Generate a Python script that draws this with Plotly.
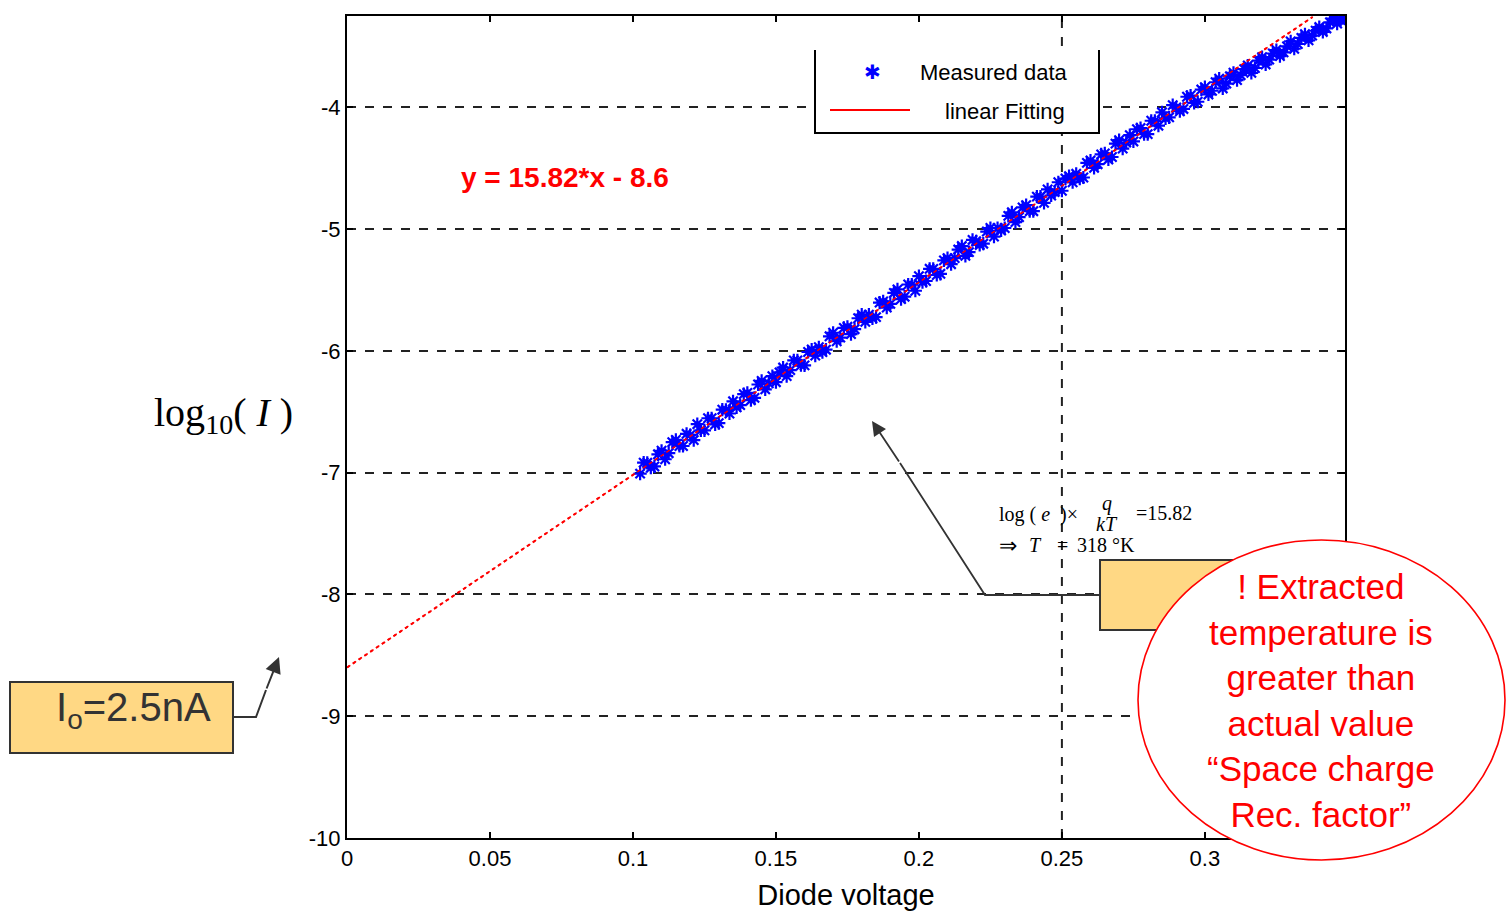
import plotly.graph_objects as go

# ---------------- data ----------------
meas_x = [0.1025, 0.105, 0.1075, 0.11, 0.1125, 0.115, 0.1175, 0.12, 0.1225, 0.125,
          0.1275, 0.13, 0.1325, 0.135, 0.1375, 0.14, 0.1425, 0.145, 0.1475, 0.15,
          0.1525, 0.155, 0.1575, 0.16, 0.1625, 0.165, 0.1675, 0.17, 0.1725, 0.175,
          0.1775, 0.18, 0.1825, 0.185, 0.1875, 0.19, 0.1925, 0.195, 0.1975, 0.2,
          0.2025, 0.205, 0.2075, 0.21, 0.2125, 0.215, 0.2175, 0.22, 0.2225, 0.225,
          0.2275, 0.23, 0.2325, 0.235, 0.2375, 0.24, 0.2425, 0.245, 0.2475, 0.25,
          0.2525, 0.255, 0.2575, 0.26, 0.2625, 0.265, 0.2675, 0.27, 0.2725, 0.275,
          0.2775, 0.28, 0.2825, 0.285, 0.2875, 0.29, 0.2925, 0.295, 0.2975, 0.3,
          0.3025, 0.305, 0.3075, 0.31, 0.3125, 0.315, 0.3175, 0.32, 0.3225, 0.325,
          0.3275, 0.33, 0.3325, 0.335, 0.3375, 0.34, 0.3425, 0.345, 0.3475, 0.349,
          0.10375, 0.10625, 0.10875, 0.11125, 0.11375, 0.11625, 0.11875, 0.12125, 0.12375, 0.12625,
          0.12875, 0.13125, 0.13375, 0.13625, 0.13875, 0.14125, 0.14375, 0.14625, 0.14875, 0.15125,
          0.15375, 0.15625, 0.15875, 0.16125, 0.16375, 0.16625, 0.16875, 0.17125, 0.17375, 0.17625,
          0.17875, 0.18125, 0.18375, 0.18625, 0.18875, 0.19125, 0.19375, 0.19625, 0.19875, 0.20125,
          0.20375, 0.20625, 0.20875, 0.21125, 0.21375, 0.21625, 0.21875, 0.22125, 0.22375, 0.22625,
          0.22875, 0.23125, 0.23375, 0.23625, 0.23875, 0.24125, 0.24375, 0.24625, 0.24875, 0.25125,
          0.25375, 0.25625, 0.25875, 0.26125, 0.26375, 0.26625, 0.26875, 0.27125, 0.27375, 0.27625,
          0.27875, 0.28125, 0.28375, 0.28625, 0.28875, 0.29125, 0.29375, 0.29625, 0.29875, 0.30125,
          0.30375, 0.30625, 0.30875, 0.31125, 0.31375, 0.31625, 0.31875, 0.32125, 0.32375, 0.32625,
          0.32875, 0.33125, 0.33375, 0.33625, 0.33875, 0.34125, 0.34375, 0.34625, 0.34825]
meas_y = [-7.008, -6.919, -6.949, -6.820, -6.840, -6.731, -6.781, -6.692, -6.602, -6.653,
          -6.553, -6.593, -6.484, -6.414, -6.445, -6.345, -6.386, -6.246, -6.267, -6.257,
          -6.137, -6.158, -6.078, -6.119, -5.989, -5.970, -5.990, -5.851, -5.891, -5.802,
          -5.822, -5.702, -5.703, -5.723, -5.594, -5.614, -5.495, -5.555, -5.456, -5.386,
          -5.426, -5.327, -5.367, -5.238, -5.238, -5.139, -5.189, -5.100, -5.120, -4.991,
          -4.991, -4.991, -4.862, -4.902, -4.803, -4.853, -4.734, -4.674, -4.695, -4.685,
          -4.565, -4.546, -4.576, -4.437, -4.467, -4.378, -4.408, -4.269, -4.289, -4.280,
          -4.170, -4.220, -4.111, -4.041, -4.082, -4.002, -4.013, -3.903, -3.954, -3.834,
          -3.864, -3.765, -3.805, -3.716, -3.736, -3.657, -3.677, -3.588, -3.608, -3.529,
          -3.549, -3.459, -3.480, -3.400, -3.411, -3.341, -3.352, -3.272, -3.283, -3.255,
          -6.918, -6.959, -6.849, -6.890, -6.750, -6.781, -6.681, -6.732, -6.652, -6.553,
          -6.603, -6.483, -6.514, -6.464, -6.355, -6.405, -6.276, -6.316, -6.207, -6.177,
          -6.207, -6.078, -6.118, -6.009, -6.039, -6.010, -5.880, -5.921, -5.811, -5.862,
          -5.732, -5.762, -5.733, -5.603, -5.644, -5.524, -5.575, -5.455, -5.506, -5.436,
          -5.326, -5.377, -5.257, -5.288, -5.168, -5.219, -5.089, -5.130, -5.020, -5.061,
          -5.011, -4.891, -4.942, -4.822, -4.853, -4.733, -4.784, -4.724, -4.615, -4.585,
          -4.615, -4.586, -4.456, -4.497, -4.387, -4.428, -4.298, -4.339, -4.229, -4.180,
          -4.220, -4.110, -4.151, -4.091, -3.982, -4.032, -3.913, -3.963, -3.854, -3.894,
          -3.794, -3.845, -3.745, -3.776, -3.686, -3.717, -3.617, -3.648, -3.558, -3.579,
          -3.499, -3.519, -3.430, -3.450, -3.371, -3.381, -3.302, -3.312, -3.262]

fit_x = [0.0, 0.3377]
fit_y = [-8.6, -3.258]

x_tickvals = [0, 0.05, 0.1, 0.15, 0.2, 0.25, 0.3]
x_ticktext = ["0", "0.05", "0.1", "0.15", "0.2", "0.25", "0.3"]
y_tickvals = [-10, -9, -8, -7, -6, -5, -4]
y_ticktext = ["-10", "-9", "-8", "-7", "-6", "-5", "-4"]

series_names = ["Measured data", "linear Fitting"]
equation_text = "y = 15.82*x - 8.6"
io_text = "I<sub>o</sub>=2.5nA"
circle_lines = ["! Extracted", "temperature is", "greater than", "actual value",
                "\u201cSpace charge", "Rec. factor\u201d"]

# ---------------- layout geometry ----------------
W, H = 1506, 913
L, R, T, B = 347, 1345, 16, 838


def px(x):
    return (x - L) / (R - L)


def py(y):
    return (B - y) / (B - T)


SANS = "Liberation Sans, Arial, sans-serif"
SERIF = "Liberation Serif, Times New Roman, serif"
DARK = "#333333"
YELLOW = "#FFD884"

fig = go.Figure()

fig.add_trace(go.Scatter(
    x=fit_x, y=fit_y, mode="lines", name=series_names[1],
    line=dict(color="#FF0000", width=2, dash="3px,4px"), showlegend=False))

fig.add_trace(go.Scatter(
    x=meas_x, y=meas_y, mode="markers", name=series_names[0],
    marker=dict(symbol="asterisk-open", size=11, color="#0000FF",
                line=dict(color="#0000FF", width=2.2)),
    showlegend=False))

fig.add_trace(go.Scatter(
    x=fit_x, y=fit_y, mode="lines", name=series_names[1],
    line=dict(color="#FF0000", width=1.5, dash="4px,3px"), showlegend=False))

shapes = []
annotations = []


def note(xp, yp, text, font, xanchor="center", yanchor="middle", **kw):
    d = dict(xref="paper", yref="paper", x=px(xp), y=py(yp), text=text, showarrow=False,
             xanchor=xanchor, yanchor=yanchor, font=font)
    d.update(kw)
    annotations.append(d)


# vertical dashed grid line at 0.25
shapes.append(dict(type="line", xref="x", yref="paper", x0=0.25, x1=0.25, y0=0, y1=1,
                   line=dict(color="#222222", width=2, dash="dash"), layer="below"))

# legend box (no top border), white background covering grid lines
lx0, lx1, ly0, ly1 = px(815), px(1099), py(50), py(133)
shapes.append(dict(type="rect", xref="paper", yref="paper",
                   x0=px(816), x1=px(1098), y0=py(132), y1=py(51),
                   line=dict(width=0), fillcolor="white", layer="above"))
shapes.append(dict(type="path", xref="paper", yref="paper",
                   path=f"M {lx0} {ly0} L {lx0} {ly1} L {lx1} {ly1} L {lx1} {ly0}",
                   line=dict(color="black", width=2), fillcolor="rgba(0,0,0,0)", layer="above"))
shapes.append(dict(type="line", xref="paper", yref="paper",
                   x0=px(830), x1=px(910), y0=py(110), y1=py(110),
                   line=dict(color="#FF0000", width=2), layer="above"))
note(872, 72, "\u2731", dict(family="DejaVu Sans", size=20, color="#0000FF"))
note(918, 72, series_names[0], dict(family=SANS, size=22, color="black"), xanchor="left")
note(943, 112, series_names[1], dict(family=SANS, size=22, color="black"), xanchor="left")

# equation
note(565, 178, f"<b>{equation_text}</b>", dict(family=SANS, size=28, color="#FF0000"))

# y label
note(223, 415, "log<sub>10</sub>( <i>I</i> )", dict(family=SERIF, size=40, color="black"))

# Io callout
shapes.append(dict(type="rect", xref="paper", yref="paper", x0=px(10), x1=px(233),
                   y0=py(753), y1=py(682), fillcolor=YELLOW, line=dict(color=DARK, width=2)))
note(133, 710, io_text, dict(family=SANS, size=40, color=DARK))
shapes.append(dict(type="path", xref="paper", yref="paper",
                   path=f"M {px(233)} {py(717)} L {px(256)} {py(717)} L {px(266)} {py(690)}",
                   line=dict(color=DARK, width=2)))
annotations.append(dict(xref="paper", yref="paper", x=px(279), y=py(657), text="",
                        showarrow=True, ax=266 - 279, ay=690 - 657, axref="pixel", ayref="pixel",
                        arrowhead=2, arrowsize=1.6, arrowwidth=2, arrowcolor=DARK))

# second callout box + connector
shapes.append(dict(type="rect", xref="paper", yref="paper", x0=px(1100), x1=px(1245),
                   y0=py(630), y1=py(560), fillcolor=YELLOW, line=dict(color=DARK, width=2)))
shapes.append(dict(type="path", xref="paper", yref="paper",
                   path=f"M {px(1100)} {py(595)} L {px(985)} {py(595)} L {px(900)} {py(463)}",
                   line=dict(color=DARK, width=1.8)))
annotations.append(dict(xref="paper", yref="paper", x=px(872), y=py(421), text="",
                        showarrow=True, ax=900 - 872, ay=463 - 421, axref="pixel", ayref="pixel",
                        arrowhead=2, arrowsize=1.6, arrowwidth=1.8, arrowcolor=DARK))

# math text
mf = dict(family=SERIF, size=20, color="black")
note(997, 514, "log ( <i>e</i>  )\u00d7", mf, xanchor="left")
note(1107, 504, "<i>q</i>", mf)
note(1107, 524, "<i>kT</i>", mf)
note(1134, 513, "=15.82", mf, xanchor="left")
note(997, 545, "\u21d2", dict(family=SERIF, size=22, color="black"), xanchor="left")
note(1027, 545, "<i>T</i>", mf, xanchor="left")
note(1062, 545, "=", mf)
note(1075, 545, "318 \u00b0K", mf, xanchor="left")

# red ellipse with text
shapes.append(dict(type="circle", xref="paper", yref="paper", x0=px(1138), x1=px(1505),
                   y0=py(860), y1=py(540), fillcolor="white", line=dict(color="#FF0000", width=1.6),
                   layer="above"))
note(1321, 700, "<br>".join(circle_lines), dict(family=SANS, size=35, color="#FF0000"))

fig.update_layout(
    width=W, height=H,
    margin=dict(l=L, r=W - R, t=T, b=H - B, autoexpand=False),
    paper_bgcolor="white", plot_bgcolor="white",
    showlegend=False,
    shapes=shapes, annotations=annotations,
    xaxis=dict(range=[0, 0.349], tickvals=x_tickvals, ticktext=x_ticktext,
               showgrid=False, zeroline=False, showline=True, linecolor="black", linewidth=2,
               mirror="ticks", ticks="inside", ticklen=6, tickwidth=2, tickcolor="black",
               tickfont=dict(family=SANS, size=22, color="black"),
               title=dict(text="Diode voltage", font=dict(family=SANS, size=29, color="black"), standoff=14)),
    yaxis=dict(range=[-10, -3.25], tickvals=y_tickvals, ticktext=y_ticktext,
               showgrid=True, gridcolor="#222222", gridwidth=2, griddash="dash",
               zeroline=False, showline=True, linecolor="black", linewidth=2,
               mirror="ticks", ticks="inside", ticklen=6, tickwidth=2, tickcolor="black",
               tickfont=dict(family=SANS, size=22, color="black")),
)

fig.write_html("out.html")
